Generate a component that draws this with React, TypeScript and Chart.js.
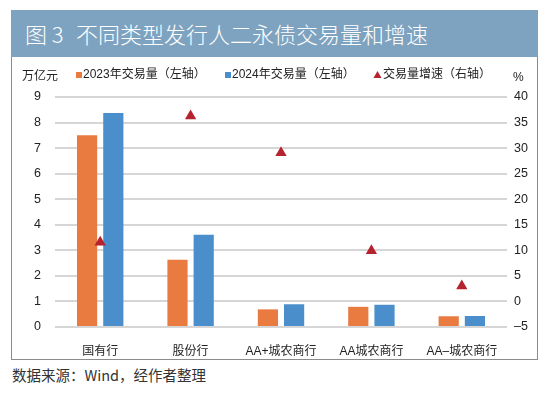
import React, { useEffect, useRef } from "react";
import { Chart, registerables } from "chart.js";
Chart.register(...registerables);

const categories = ["国有行", "股份行", "AA+城农商行", "AA城农商行", "AA–城农商行"];
const volume2023 = [7.5, 2.63, 0.69, 0.79, 0.42];
const volume2024 = [8.37, 3.61, 0.89, 0.87, 0.43];
const growthRate = [11.6, 36.3, 29.1, 9.9, 3.0];
const leftTicks = { min: 0, max: 9, step: 1 };
const rightTicks = { min: -5, max: 40, step: 5 };
const legendLabels = ["2023年交易量（左轴）", "2024年交易量（左轴）", "交易量增速（右轴）"];

const ORANGE = "#e97a40";
const BLUE = "#4a8fcb";
const RED = "#b5232f";
const FONT = "'Liberation Sans', 'Noto Sans CJK SC', sans-serif";

const overlayPlugin = {
  id: "overlay",
  afterDraw(chart: any) {
    const ctx = chart.ctx;
    ctx.save();
    ctx.fillStyle = "#222";
    ctx.font = `12px ${FONT}`;
    ctx.textBaseline = "middle";
    ctx.textAlign = "left";
    ctx.fillText("万亿元", 22, 77);
    ctx.fillText("%", 513, 78);
    const y = 75;
    ctx.fillStyle = ORANGE;
    ctx.fillRect(76, y - 3, 6, 6);
    ctx.fillStyle = "#222";
    ctx.fillText(legendLabels[0], 83, y);
    ctx.fillStyle = BLUE;
    ctx.fillRect(225, y - 3, 6, 6);
    ctx.fillStyle = "#222";
    ctx.fillText(legendLabels[1], 232, y);
    ctx.fillStyle = RED;
    ctx.beginPath();
    ctx.moveTo(377.5, y - 4);
    ctx.lineTo(381.5, y + 3);
    ctx.lineTo(373.5, y + 3);
    ctx.closePath();
    ctx.fill();
    ctx.fillStyle = "#222";
    ctx.fillText(legendLabels[2], 383, y);
    ctx.restore();
  },
};

export default function App() {
  const ref = useRef<HTMLCanvasElement | null>(null);
  useEffect(() => {
    if (!ref.current) return;
    const chart = new Chart(ref.current, {
      type: "bar",
      data: {
        labels: categories,
        datasets: [
          {
            type: "line",
            label: legendLabels[2],
            data: growthRate,
            yAxisID: "y1",
            showLine: false,
            pointStyle: "triangle",
            pointRadius: 6.5,
            pointBackgroundColor: RED,
            pointBorderColor: RED,
            pointBorderWidth: 0,
            order: 0,
          } as any,
          {
            label: legendLabels[0],
            data: volume2023,
            backgroundColor: ORANGE,
            yAxisID: "y",
            categoryPercentage: 0.58,
            barPercentage: 0.77,
            order: 1,
          },
          {
            label: legendLabels[1],
            data: volume2024,
            backgroundColor: BLUE,
            yAxisID: "y",
            categoryPercentage: 0.58,
            barPercentage: 0.77,
            order: 1,
          },
        ],
      },
      options: {
        animation: false,
        responsive: false,
        maintainAspectRatio: false,
        layout: { padding: { top: 97, left: 0, right: 0, bottom: 0 } },
        plugins: { legend: { display: false }, tooltip: { enabled: false } },
        scales: {
          x: {
            grid: { display: false },
            border: { display: false },
            ticks: { color: "#222", font: { size: 12, family: FONT }, padding: 9, maxRotation: 0 },
            afterFit: (s: any) => { s.height = 67; },
          },
          y: {
            position: "left",
            min: leftTicks.min,
            max: leftTicks.max,
            ticks: { stepSize: leftTicks.step, color: "#222", font: { size: 12.5, family: FONT }, padding: 14 },
            grid: { color: "#d6d6d6", lineWidth: 2, drawTicks: false },
            border: { display: false },
            afterFit: (s: any) => { s.width = 55; },
          },
          y1: {
            position: "right",
            min: rightTicks.min,
            max: rightTicks.max,
            ticks: {
              stepSize: rightTicks.step,
              color: "#222",
              font: { size: 12.5, family: FONT },
              padding: 7,
              callback: (v: any) => (Number(v) < 0 ? "–" + Math.abs(Number(v)) : String(v)),
            },
            grid: { display: false, drawTicks: false },
            border: { display: false },
            afterFit: (s: any) => { s.width = 43; },
          },
        },
      },
      plugins: [overlayPlugin],
    });
    return () => chart.destroy();
  }, []);

  return (
    <div style={{ position: "fixed", left: 0, top: 0, width: 550, height: 394, background: "#fff", overflow: "hidden" }}>
      <div
        style={{
          position: "absolute", left: 11, top: 10, width: 527, height: 47, background: "#7ea3c0",
          color: "#fff", fontFamily: "'Noto Sans CJK SC', sans-serif", fontSize: 22, fontWeight: 300,
          lineHeight: "47px", whiteSpace: "nowrap",
        }}
      >
        <span style={{ position: "absolute", left: 14, top: 0 }}>图 3</span>
        <span style={{ position: "absolute", left: 65, top: 0 }}>不同类型发行人二永债交易量和增速</span>
      </div>
      <div
        style={{
          position: "absolute", left: 11, top: 57, width: 525, height: 302,
          borderLeft: "1px solid #8c8c8c", borderRight: "1px solid #8c8c8c", borderBottom: "1px solid #8c8c8c",
        }}
      />
      <div
        style={{
          position: "absolute", left: 12, top: 365, fontFamily: "'Noto Sans CJK SC', sans-serif",
          fontSize: 14.5, color: "#333", whiteSpace: "nowrap", lineHeight: "20px",
        }}
      >
        数据来源：Wind，经作者整理
      </div>
      <canvas ref={ref} width={550} height={394} style={{ position: "absolute", left: 0, top: 0, width: 550, height: 394 }} />
    </div>
  );
}
